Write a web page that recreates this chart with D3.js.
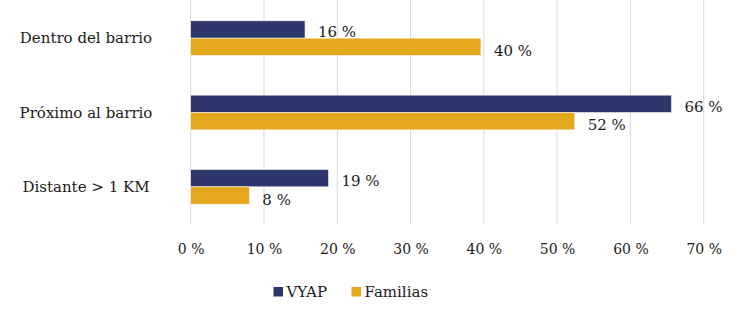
<!DOCTYPE html>
<html><head><meta charset="utf-8">
<script src="https://cdn.jsdelivr.net/npm/d3@7"></script>
<style>body{margin:0;background:#fff}svg{display:block}</style>
</head><body><svg id="c" width="738" height="313"></svg>
<script>
const categories = ["Dentro del barrio", "Próximo al barrio", "Distante > 1 KM"];
const seriesNames = ["VYAP", "Familias"];
const vyap = [15.6, 65.6, 18.8];
const familias = [39.6, 52.4, 8.0];
const xTicks = [0, 10, 20, 30, 40, 50, 60, 70];
const colors = ["#2E376B", "#E5A71B"];
const FONT = "'DejaVu Serif', 'Liberation Serif', serif";

const svg = d3.select("#c");
const x = d3.scaleLinear().domain([0, 70]).range([190.7, 703.7]);
const y = d3.scaleBand().domain(categories).range([1, 224]).paddingInner(0).paddingOuter(0);
const sub = d3.scaleBand().domain(seriesNames).range([0, 34.7]);
const barOff = (y.bandwidth() - 34.7) / 2;

svg.append("g").selectAll("line").data(xTicks).join("line")
  .attr("x1", d => x(d)).attr("x2", d => x(d))
  .attr("y1", 0).attr("y2", 224)
  .attr("stroke", "#d9d9d9").attr("stroke-width", 1);

const xAxis = d3.axisBottom(x).tickValues(xTicks).tickSize(0).tickPadding(0).tickFormat(d => d + " %");
const gx = svg.append("g").attr("transform", "translate(0,244)").call(xAxis);
gx.attr("font-family", null).attr("font-size", null);
gx.select(".domain").remove();
gx.selectAll("text").attr("font-family", FONT).attr("font-size", "14px").attr("fill", "#1a1a1a");

svg.append("g").selectAll("text").data(categories).join("text")
  .attr("x", 86).attr("y", d => y(d) + y.bandwidth() / 2)
  .attr("dy", "0.35em").attr("text-anchor", "middle")
  .attr("font-family", FONT).attr("font-size", "15px").attr("fill", "#1a1a1a").text(d => d);

const data = [];
categories.forEach((c, i) => {
  data.push({c, s: seriesNames[0], v: vyap[i]});
  data.push({c, s: seriesNames[1], v: familias[i]});
});
const color = d3.scaleOrdinal().domain(seriesNames).range(colors);

svg.append("g").selectAll("rect").data(data).join("rect")
  .attr("x", x(0)).attr("y", d => y(d.c) + barOff + sub(d.s))
  .attr("width", d => x(d.v) - x(0)).attr("height", sub.bandwidth())
  .attr("fill", d => color(d.s)).attr("stroke", "#f2f2f2").attr("stroke-width", 0.6);

svg.append("g").selectAll("text").data(data).join("text")
  .attr("x", d => x(d.v) + 13)
  .attr("y", d => y(d.c) + barOff + sub(d.s) + sub.bandwidth() / 2 + (d.s === "VYAP" ? 2.5 : 4))
  .attr("dy", "0.35em").attr("font-family", FONT).attr("font-size", "15px").attr("fill", "#1a1a1a")
  .text(d => Math.round(d.v) + " %");

const leg = svg.append("g");
const legX = [273.5, 351.5];
seriesNames.forEach((s, i) => {
  leg.append("rect").attr("x", legX[i]).attr("y", 287).attr("width", 9.5).attr("height", 9.5).attr("fill", colors[i]);
  leg.append("text").attr("x", legX[i] + 13).attr("y", 291.7).attr("dy", "0.35em")
    .attr("font-family", FONT).attr("font-size", "15px").attr("fill", "#1a1a1a").text(s);
});
</script></body></html>
